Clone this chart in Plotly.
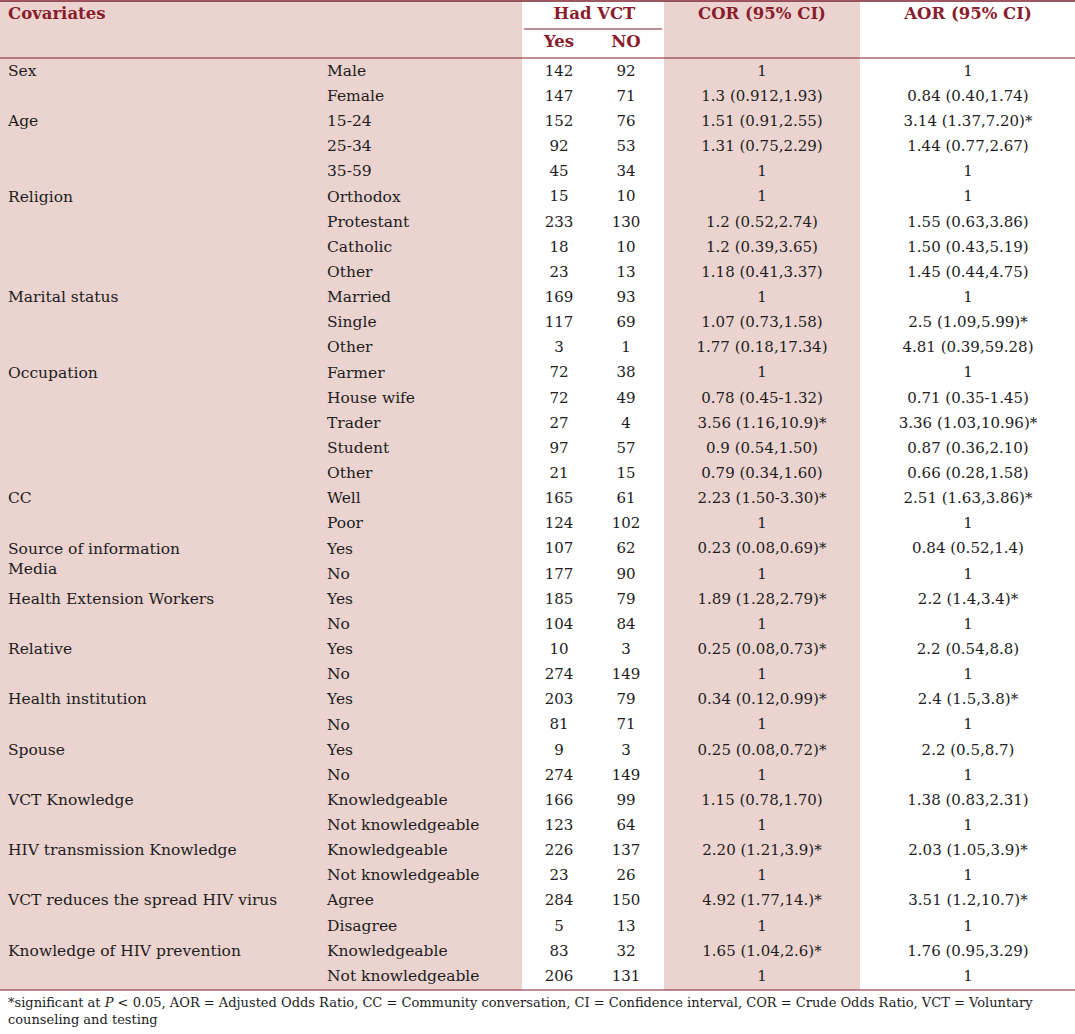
import plotly.graph_objects as go

# ---------------- data ----------------
covariates = [
    "Sex", "", "Age", "", "", "Religion", "", "", "", "Marital status", "", "",
    "Occupation", "", "", "", "", "CC", "", "Source of information<br>Media", "",
    "Health Extension Workers", "", "Relative", "", "Health institution", "",
    "Spouse", "", "VCT Knowledge", "", "HIV transmission Knowledge", "",
    "VCT reduces the spread HIV virus", "", "Knowledge of HIV prevention", "",
]
levels = [
    "Male", "Female", "15-24", "25-34", "35-59", "Orthodox", "Protestant", "Catholic", "Other",
    "Married", "Single", "Other", "Farmer", "House wife", "Trader", "Student", "Other",
    "Well", "Poor", "Yes", "No", "Yes", "No", "Yes", "No", "Yes", "No", "Yes", "No",
    "Knowledgeable", "Not knowledgeable", "Knowledgeable", "Not knowledgeable",
    "Agree", "Disagree", "Knowledgeable", "Not knowledgeable",
]
had_vct_yes = [142, 147, 152, 92, 45, 15, 233, 18, 23, 169, 117, 3, 72, 72, 27, 97, 21,
               165, 124, 107, 177, 185, 104, 10, 274, 203, 81, 9, 274, 166, 123, 226, 23,
               284, 5, 83, 206]
had_vct_no = [92, 71, 76, 53, 34, 10, 130, 10, 13, 93, 69, 1, 38, 49, 4, 57, 15,
              61, 102, 62, 90, 79, 84, 3, 149, 79, 71, 3, 149, 99, 64, 137, 26,
              150, 13, 32, 131]
cor = [
    "1", "1.3 (0.912,1.93)", "1.51 (0.91,2.55)", "1.31 (0.75,2.29)", "1",
    "1", "1.2 (0.52,2.74)", "1.2 (0.39,3.65)", "1.18 (0.41,3.37)",
    "1", "1.07 (0.73,1.58)", "1.77 (0.18,17.34)",
    "1", "0.78 (0.45-1.32)", "3.56 (1.16,10.9)*", "0.9 (0.54,1.50)", "0.79 (0.34,1.60)",
    "2.23 (1.50-3.30)*", "1",
    "0.23 (0.08,0.69)*", "1", "1.89 (1.28,2.79)*", "1", "0.25 (0.08,0.73)*", "1",
    "0.34 (0.12,0.99)*", "1", "0.25 (0.08,0.72)*", "1",
    "1.15 (0.78,1.70)", "1", "2.20 (1.21,3.9)*", "1", "4.92 (1.77,14.)*", "1",
    "1.65 (1.04,2.6)*", "1",
]
aor = [
    "1", "0.84 (0.40,1.74)", "3.14 (1.37,7.20)*", "1.44 (0.77,2.67)", "1",
    "1", "1.55 (0.63,3.86)", "1.50 (0.43,5.19)", "1.45 (0.44,4.75)",
    "1", "2.5 (1.09,5.99)*", "4.81 (0.39,59.28)",
    "1", "0.71 (0.35-1.45)", "3.36 (1.03,10.96)*", "0.87 (0.36,2.10)", "0.66 (0.28,1.58)",
    "2.51 (1.63,3.86)*", "1",
    "0.84 (0.52,1.4)", "1", "2.2 (1.4,3.4)*", "1", "2.2 (0.54,8.8)", "1",
    "2.4 (1.5,3.8)*", "1", "2.2 (0.5,8.7)", "1",
    "1.38 (0.83,2.31)", "1", "2.03 (1.05,3.9)*", "1", "3.51 (1.2,10.7)*", "1",
    "1.76 (0.95,3.29)", "1",
]
header_top = ["Covariates", "Had VCT", "COR (95% CI)", "AOR (95% CI)"]
header_sub = ["Yes", "NO"]
footnote = ("*significant at <i>P</i> &lt; 0.05, AOR = Adjusted Odds Ratio, CC = Community conversation, "
            "CI = Confidence interval, COR = Crude Odds Ratio, VCT = Voluntary<br>counseling and testing")

# ---------------- style / layout ----------------
W, H = 1075, 1034
ROW_PX = 25.14          # pixel height of one body row
FIRST_ROW_PX = 72       # pixel centre of the first body row


def px_to_row(p):
    return (p - FIRST_ROW_PX) / ROW_PX


SHADE = "#EBD4CF"
RED = "#8A1C2C"
LINE = "#7E1F2D"
INK = "#221C1D"
FONT = "DejaVu Serif"
BODY = dict(family=FONT, size=15, color=INK)
LABEL = dict(family=FONT, size=15.5, color=INK)
HEAD = dict(family=FONT, size=16.5, color=RED)

X_COV, X_LEV, X_YES, X_NO, X_COR, X_AOR = 8, 327, 559, 626, 762, 968
SHADE_L = (0, 522)
SHADE_COR = (664, 860)
LINE_GAP_PX = 21

n = len(levels)
rows = list(range(n))
cov_y = [r + (c.count("<br>") * LINE_GAP_PX / 2) / ROW_PX for r, c in zip(rows, covariates)]

fig = go.Figure()


def text_trace(x, y, text, pos, font):
    fig.add_trace(go.Scatter(x=[x] * len(y), y=y, text=text, mode="text",
                             textposition=pos, textfont=font, hoverinfo="skip",
                             showlegend=False))


text_trace(X_COV, cov_y, covariates, "middle right", LABEL)
text_trace(X_LEV, rows, levels, "middle right", LABEL)
text_trace(X_YES, rows, [str(v) for v in had_vct_yes], "middle center", BODY)
text_trace(X_NO, rows, [str(v) for v in had_vct_no], "middle center", BODY)
text_trace(X_COR, rows, cor, "middle center", BODY)
text_trace(X_AOR, rows, aor, "middle center", BODY)

# header
y_h1 = px_to_row(15)
y_h2 = px_to_row(43)
hb = [f"<b>{t}</b>" for t in header_top]
text_trace(X_COV, [y_h1], [hb[0]], "middle right", HEAD)
text_trace((X_YES + X_NO) / 2 + 2, [y_h1], [hb[1]], "middle center", HEAD)
text_trace(X_COR, [y_h1], [hb[2]], "middle center", HEAD)
text_trace(X_AOR, [y_h1], [hb[3]], "middle center", HEAD)
text_trace(X_YES, [y_h2], [f"<b>{header_sub[0]}</b>"], "middle center", HEAD)
text_trace(X_NO, [y_h2], [f"<b>{header_sub[1]}</b>"], "middle center", HEAD)

# footnote
text_trace(X_COV, [px_to_row(1012)], [footnote], "middle right",
           dict(family=FONT, size=13, color=INK))

y_top = px_to_row(1)
y_bot = px_to_row(990)
shapes = [
    dict(type="rect", xref="x", yref="y", x0=SHADE_L[0], x1=SHADE_L[1], y0=y_top, y1=y_bot,
         fillcolor=SHADE, line_width=0, layer="below"),
    dict(type="rect", xref="x", yref="y", x0=SHADE_COR[0], x1=SHADE_COR[1], y0=y_top, y1=y_bot,
         fillcolor=SHADE, line_width=0, layer="below"),
    dict(type="line", xref="x", yref="y", x0=0, x1=W, y0=px_to_row(1), y1=px_to_row(1),
         line=dict(color=LINE, width=1.5)),
    dict(type="line", xref="x", yref="y", x0=524, x1=662, y0=px_to_row(29), y1=px_to_row(29),
         line=dict(color=LINE, width=1.2)),
    dict(type="line", xref="x", yref="y", x0=0, x1=W, y0=px_to_row(58), y1=px_to_row(58),
         line=dict(color=LINE, width=1.2)),
    dict(type="line", xref="x", yref="y", x0=0, x1=W, y0=y_bot, y1=y_bot,
         line=dict(color=LINE, width=1.2)),
]

fig.update_layout(
    width=W, height=H, margin=dict(l=0, r=0, t=0, b=0),
    paper_bgcolor="white", plot_bgcolor="white",
    shapes=shapes,
    xaxis=dict(range=[0, W], visible=False, fixedrange=True),
    yaxis=dict(range=[px_to_row(H), px_to_row(0)], visible=False, fixedrange=True),
    showlegend=False,
)

fig.write_html("out.html", config={"displayModeBar": False},
               post_script="document.body.style.margin='0';document.body.style.overflow='hidden';")
